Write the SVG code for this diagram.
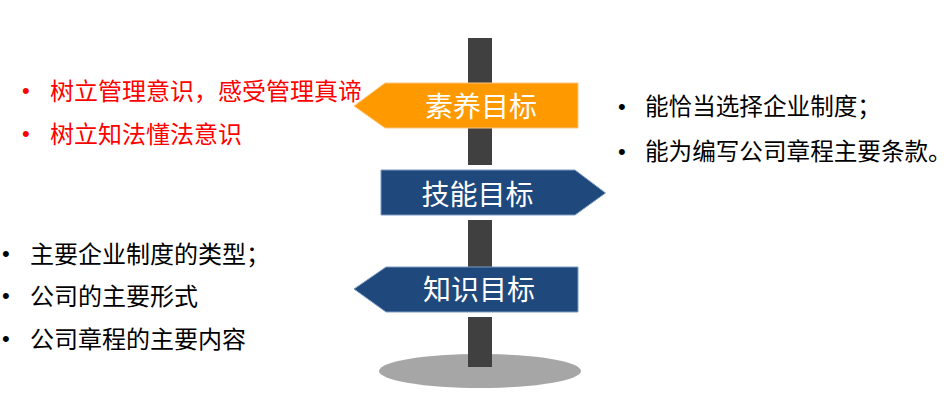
<svg xmlns="http://www.w3.org/2000/svg" width="952" height="409" viewBox="0 0 952 409">
<style>
text{font-family:"Microsoft YaHei","Noto Sans CJK SC","Noto Sans",sans-serif;}
.t{font-size:24px;}
.t2{font-size:23.6px;}
.b{font-family:"Liberation Sans",Arial,sans-serif;font-size:22px;}
.red{fill:#FF0000;}
.blk{fill:#000000;}
.sign{font-size:28px;fill:#FFFFFF;text-anchor:middle;}
.blue{fill:#1F497D;stroke:#7F9CC0;stroke-width:1;}
.orange{fill:#FF9900;stroke:#FFC680;stroke-width:1;}
.pole{fill:#404040;}
</style>
<rect width="952" height="409" fill="#FFFFFF"/>
<g id="post">
<ellipse cx="480" cy="371" rx="101" ry="17" fill="#A6A6A6"/>
<rect class="pole" x="468" y="38" width="24" height="127"/>
<rect class="pole" x="468" y="220" width="24" height="47"/>
<rect class="pole" x="468" y="317" width="24" height="50"/>
</g>
<g id="sign-suyang">
<polygon class="orange" points="354,106 385,83 578,83 578,128 385,128"/>
<text class="sign" x="481" y="116.5">素养目标</text>
</g>
<g id="sign-jineng">
<polygon class="blue" points="381,170 575,170 605.5,193 575,215 381,215"/>
<text class="sign" x="477.5" y="204.5">技能目标</text>
</g>
<g id="sign-zhishi">
<polygon class="blue" points="354,289 386,267 578,267 578,312 386,312"/>
<text class="sign" x="479" y="300">知识目标</text>
</g>
<g id="list-suyang">
<text class="b red" x="22" y="98">•</text>
<text class="t red" x="50" y="100">树立管理意识，感受管理真谛</text>
<text class="b red" x="22" y="141">•</text>
<text class="t red" x="50" y="143">树立知法懂法意识</text>
</g>
<g id="list-jineng">
<text class="b blk" x="618" y="113.5">•</text>
<text class="t2 blk" x="645" y="115">能恰当选择企业制度；</text>
<text class="b blk" x="618" y="158.5">•</text>
<text class="t2 blk" x="645" y="160">能为编写公司章程主要条款。</text>
</g>
<g id="list-zhishi">
<text class="b blk" x="2" y="261">•</text>
<text class="t blk" x="30" y="263">主要企业制度的类型；</text>
<text class="b blk" x="2" y="303">•</text>
<text class="t blk" x="30" y="305">公司的主要形式</text>
<text class="b blk" x="2" y="346">•</text>
<text class="t blk" x="30" y="348">公司章程的主要内容</text>
</g>
<g id="connectors"></g>
</svg>
